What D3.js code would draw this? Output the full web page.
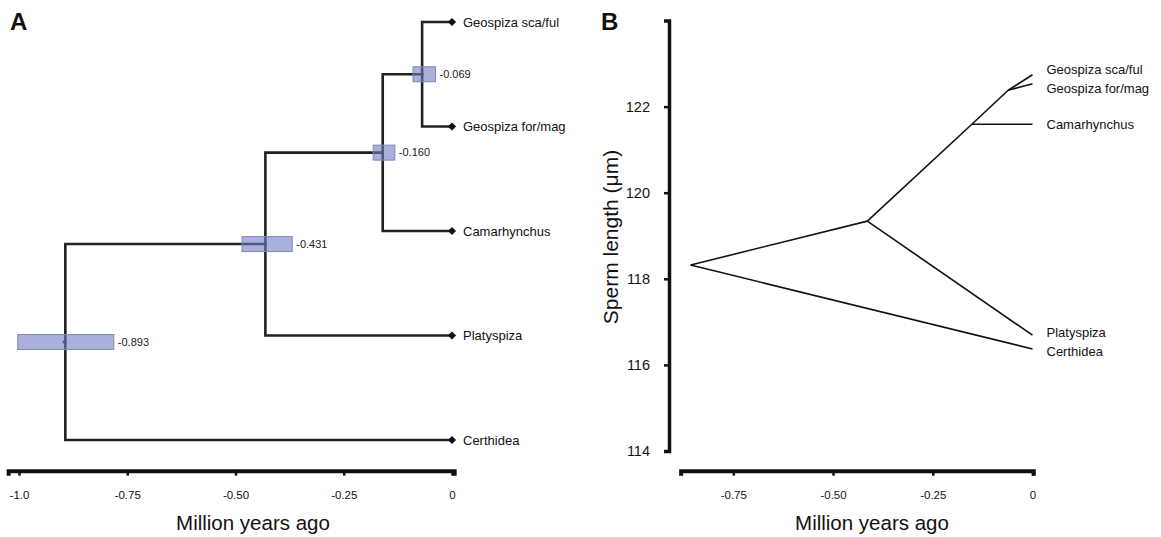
<!DOCTYPE html>
<html>
<head>
<meta charset="utf-8">
<script src="https://cdn.jsdelivr.net/npm/d3@7"></script>
<style>
  html, body { margin: 0; padding: 0; background: #fff; }
  svg { display: block; font-family: "Liberation Sans", Arial, sans-serif; }
</style>
</head>
<body>
<svg id="chart" width="1161" height="537"></svg>
<script>
// ---------------- data ----------------
const tips = ["Geospiza sca/ful", "Geospiza for/mag", "Camarhynchus", "Platyspiza", "Certhidea"];
// internal nodes (youngest to oldest); children ids: t# = tip, n# = node
const nodeChildren = [["t0", "t1"], ["n0", "t2"], ["n1", "t3"], ["n2", "t4"]];
// Panel A: node ages (Myr) with HPD bars
const nodeAgesA = [-0.069, -0.160, -0.431, -0.893];
const nodeLabelsA = ["-0.069", "-0.160", "-0.431", "-0.893"];
const hpdLow = [-0.090, -0.182, -0.485, -1.003];
const hpdHigh = [-0.038, -0.132, -0.369, -0.781];
const tickValsA = [-1, -0.75, -0.5, -0.25, 0];
const tickLabelsA = ["-1.0", "-0.75", "-0.50", "-0.25", "0"];
// Panel B: traitgram
const nodeAgesB = [-0.061, -0.152, -0.414, -0.857];
const nodeTraitB = [122.38, 121.59, 119.34, 118.32];
const tipTraitB = [122.74, 122.53, 121.59, 116.69, 116.37];
const tickValsB = [-0.75, -0.5, -0.25, 0];
const tickLabelsB = ["-0.75", "-0.50", "-0.25", "0"];
const yTicksB = [114, 116, 118, 120, 122];
const xTitle = "Million years ago";
const yTitleB = "Sperm length (μm)";

// ---------------- setup ----------------
const svg = d3.select("#chart");
const ink = "#111";

function parseId(id) { return { type: id[0], i: +id.slice(1) }; }

// ================= Panel A =================
const gA = svg.append("g");
const xA = d3.scaleLinear().domain([-1, 0]).range([19, 452]);
const yTip = d3.scalePoint().domain(tips).range([22, 440]);

// compute node y positions (mean of children)
const nodeY = [];
function yOf(id) {
  const p = parseId(id);
  return p.type === "t" ? yTip(tips[p.i]) : nodeY[p.i];
}
nodeChildren.forEach((ch, i) => { nodeY[i] = d3.mean(ch, yOf); });
function ageA(id) {
  const p = parseId(id);
  return p.type === "t" ? 0 : nodeAgesA[p.i];
}

// branches (elbow)
const branches = [];
nodeChildren.forEach((ch, i) => ch.forEach(c => branches.push({ p: i, c })));
// root stub
gA.append("path")
  .attr("d", `M${xA(nodeAgesA[3] - 0.006)},${nodeY[3]}H${xA(nodeAgesA[3])}`)
  .attr("stroke", "#222").attr("stroke-width", 2.5).attr("fill", "none");
gA.selectAll("path.branch").data(branches).join("path")
  .attr("class", "branch")
  .attr("d", d => `M${xA(nodeAgesA[d.p])},${nodeY[d.p]}V${yOf(d.c)}H${xA(ageA(d.c))}`)
  .attr("fill", "none").attr("stroke", "#222").attr("stroke-width", 2.6)
  .attr("stroke-linejoin", "miter").attr("stroke-linecap", "square");

// HPD boxes
gA.selectAll("rect.hpd").data(nodeAgesA).join("rect")
  .attr("class", "hpd")
  .attr("x", (d, i) => xA(hpdLow[i]))
  .attr("width", (d, i) => xA(hpdHigh[i]) - xA(hpdLow[i]))
  .attr("y", (d, i) => nodeY[i] - 7.5)
  .attr("height", 15)
  .attr("fill", "#6f7bc0").attr("fill-opacity", 0.6)
  .attr("stroke", "#8189b5").attr("stroke-width", 1);

// node age labels
gA.selectAll("text.age").data(nodeLabelsA).join("text")
  .attr("class", "age")
  .attr("x", (d, i) => xA(hpdHigh[i]) + 4)
  .attr("y", (d, i) => nodeY[i])
  .attr("dy", "0.35em")
  .attr("font-size", 11).attr("fill", "#222")
  .text(d => d);

// tip diamonds + labels
gA.selectAll("path.tip").data(tips).join("path")
  .attr("class", "tip")
  .attr("d", d3.symbol(d3.symbolSquare, 34))
  .attr("transform", d => `translate(${xA(0)},${yTip(d)}) rotate(45)`)
  .attr("fill", "#111");
gA.selectAll("text.tiplab").data(tips).join("text")
  .attr("class", "tiplab")
  .attr("x", xA(0) + 11).attr("y", d => yTip(d)).attr("dy", "0.35em")
  .attr("font-size", 13).attr("fill", ink)
  .text(d => d);

// axis A
const xAaxisScale = xA.copy().domain([-1.025, 0.005]).range([xA(-1.025), xA(0.005)]);
const axA = gA.append("g").attr("transform", "translate(0,470.7)")
  .call(d3.axisBottom(xAaxisScale).tickValues(tickValsA)
    .tickFormat((d, i) => tickLabelsA[i]).tickSizeOuter(0).tickSize(5).tickPadding(15));
axA.select(".domain").attr("stroke", "#111").attr("stroke-width", 4);
axA.selectAll(".tick line").attr("stroke", "#111").attr("stroke-width", 2.5);
axA.selectAll(".tick text").attr("font-size", 11.5).attr("fill", ink)
  .attr("font-family", "Liberation Sans, Arial, sans-serif");
gA.append("text").attr("x", 253).attr("y", 529.5)
  .attr("text-anchor", "middle").attr("font-size", 20.5).attr("fill", ink).text(xTitle);

// panel letter
svg.append("text").attr("x", 10).attr("y", 30).attr("font-size", 24)
  .attr("font-weight", "bold").attr("fill", ink).text("A");

// ================= Panel B =================
const gB = svg.append("g");
const xB = d3.scaleLinear().domain([-0.75, 0]).range([733.3, 1032.5]);
const yB = d3.scaleLinear().domain([114, 124]).range([451, 20.5]);

function ageB(id) { const p = parseId(id); return p.type === "t" ? 0 : nodeAgesB[p.i]; }
function traitB(id) { const p = parseId(id); return p.type === "t" ? tipTraitB[p.i] : nodeTraitB[p.i]; }

gB.selectAll("line.tb").data(branches).join("line")
  .attr("class", "tb")
  .attr("x1", d => xB(nodeAgesB[d.p])).attr("y1", d => yB(nodeTraitB[d.p]))
  .attr("x2", d => xB(ageB(d.c))).attr("y2", d => yB(traitB(d.c)))
  .attr("stroke", "#111").attr("stroke-width", 1.6);

// tip labels with simple collision avoidance
const labs = tips.map((t, i) => ({ t, y: yB(tipTraitB[i]) }));
const gap = 19;
for (let iter = 0; iter < 20; iter++) {
  labs.sort((a, b) => a.y - b.y);
  for (let k = 1; k < labs.length; k++) {
    const d = labs[k].y - labs[k - 1].y;
    if (d < gap) {
      const s = (gap - d) / 2;
      labs[k - 1].y -= s; labs[k].y += s;
    }
  }
}
gB.selectAll("text.tl").data(labs).join("text")
  .attr("class", "tl")
  .attr("x", xB(0) + 14).attr("y", d => d.y).attr("dy", "0.35em")
  .attr("font-size", 13).attr("fill", ink).text(d => d.t);

// y axis B
const ayB = gB.append("g").attr("transform", "translate(669,0)")
  .call(d3.axisLeft(yB).tickValues(yTicksB).tickFormat(d3.format("d"))
    .tickSizeOuter(0).tickSize(5).tickPadding(14));
ayB.select(".domain").attr("stroke", "#111").attr("stroke-width", 3.5);
ayB.selectAll(".tick line").attr("stroke", "#111").attr("stroke-width", 2.5);
ayB.selectAll(".tick text").attr("font-size", 14.5).attr("fill", ink)
  .attr("font-family", "Liberation Sans, Arial, sans-serif");
gB.append("text")
  .attr("transform", "translate(618,237) rotate(-90)")
  .attr("text-anchor", "middle").attr("font-size", 21).attr("fill", ink).text(yTitleB);

// x axis B
const xBaxisScale = xB.copy().domain([-0.882, 0.002]).range([xB(-0.882), xB(0.002)]);
const axB = gB.append("g").attr("transform", "translate(0,470.7)")
  .call(d3.axisBottom(xBaxisScale).tickValues(tickValsB)
    .tickFormat((d, i) => tickLabelsB[i]).tickSizeOuter(0).tickSize(5).tickPadding(15));
axB.select(".domain").attr("stroke", "#111").attr("stroke-width", 4);
axB.selectAll(".tick line").attr("stroke", "#111").attr("stroke-width", 2.5);
axB.selectAll(".tick text").attr("font-size", 11.5).attr("fill", ink)
  .attr("font-family", "Liberation Sans, Arial, sans-serif");
gB.append("text").attr("x", 872).attr("y", 529.5)
  .attr("text-anchor", "middle").attr("font-size", 20.5).attr("fill", ink).text(xTitle);

svg.append("text").attr("x", 601).attr("y", 30).attr("font-size", 24)
  .attr("font-weight", "bold").attr("fill", ink).text("B");
</script>
</body>
</html>
